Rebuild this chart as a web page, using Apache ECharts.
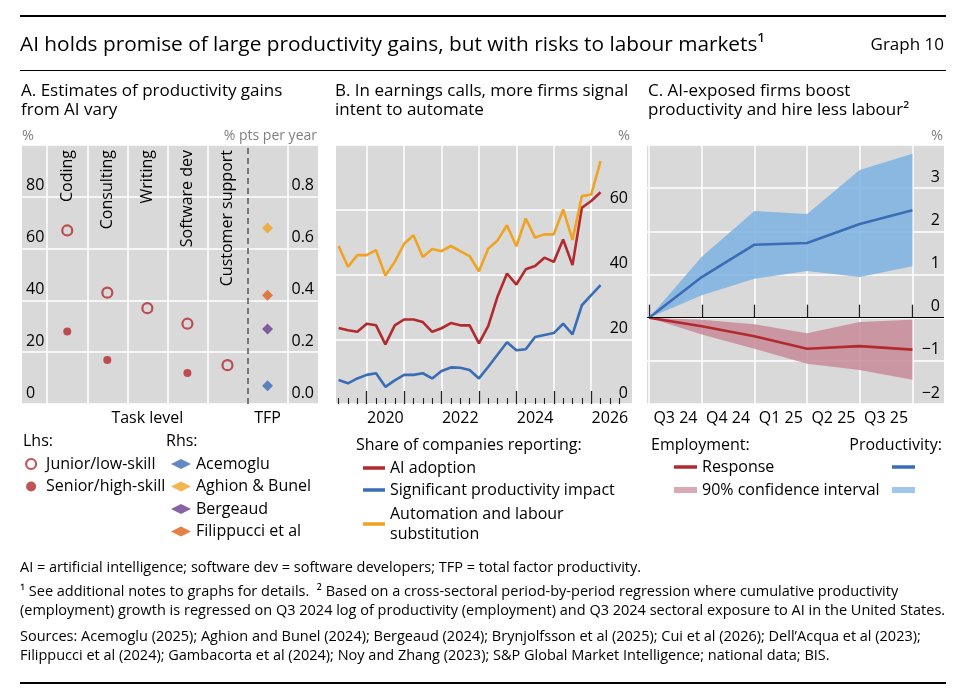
<!DOCTYPE html>
<html>
<head>
<meta charset="utf-8">
<script src="https://cdn.jsdelivr.net/npm/echarts@6/dist/echarts.min.js"></script>
<style>
  html, body { margin: 0; padding: 0; background: #fff; }
  #chart { width: 966px; height: 692px; }
</style>
</head>
<body>
<div id="chart"></div>
<script>
// A. productivity gains by task (lhs, %) and TFP estimates (rhs, % pts per year)
const taskNames = ['Coding', 'Consulting', 'Writing', 'Software dev', 'Customer support'];
const juniorGains = [67, 43, 37, 31, 15];
const seniorGains = [28, 17, null, 12, null];
const tfpStudies = ['Acemoglu', 'Aghion & Bunel', 'Bergeaud', 'Filippucci et al'];
const tfpGains = [0.07, 0.68, 0.29, 0.42];
const panelATicks = ['Task level', 'TFP'];

// B. share of companies reporting, quarterly
const callDates = [2019.25, 2019.5, 2019.75, 2020, 2020.25, 2020.5, 2020.75, 2021, 2021.25, 2021.5,
  2021.75, 2022, 2022.25, 2022.5, 2022.75, 2023, 2023.25, 2023.5, 2023.75, 2024,
  2024.25, 2024.5, 2024.75, 2025, 2025.25, 2025.5, 2025.75, 2026, 2026.25];
const aiAdoption = [23.5, 22.8, 22.3, 24.8, 24.3, 18.4, 24.3, 26.1, 26.1, 25.3,
  22.3, 23.4, 25.0, 24.3, 24.3, 18.7, 24.1, 33.3, 40.3, 36.9,
  41.6, 42.6, 45.2, 43.9, 50.8, 42.9, 60.6, 62.7, 65.4];
const productivityImpact = [7.4, 6.4, 7.9, 9.0, 9.5, 5.3, 7.3, 9.0, 9.0, 9.5,
  7.9, 10.2, 11.3, 11.2, 10.5, 7.9, 11.5, 15.3, 19.1, 16.6,
  16.9, 20.7, 21.3, 21.9, 24.8, 21.5, 30.5, 33.6, 36.7];
const automation = [48.8, 42.4, 46.0, 46.0, 47.5, 39.7, 43.9, 49.5, 52.1, 45.4,
  47.9, 47.2, 48.8, 47.2, 45.7, 41.0, 48.0, 50.6, 55.2, 48.7,
  57.3, 51.4, 52.4, 52.4, 60.1, 50.7, 64.2, 64.7, 75.0];
const yearTicks = [2020, 2021, 2022, 2023, 2024, 2025, 2026];
const quarterTicks = [2019.25, 2019.5, 2019.75, 2020.25, 2020.5, 2020.75, 2021.25, 2021.5, 2021.75,
  2022.25, 2022.5, 2022.75, 2023.25, 2023.5, 2023.75, 2024.25, 2024.5, 2024.75,
  2025.25, 2025.5, 2025.75, 2026.25, 2026.5, 2026.75];
const yearLabelSpots = [2020.5, 2022.5, 2024.5, 2026.5];

// C. cumulative response, quarters after Q3 2024
const steps = [0, 1, 2, 3, 4, 5];
const quarterLabels = ['Q3 24', 'Q4 24', 'Q1 25', 'Q2 25', 'Q3 25'];
const prodLine = [0, 0.94, 1.69, 1.73, 2.17, 2.49];
const prodUpper = [0, 1.41, 2.47, 2.40, 3.42, 3.80];
const prodLower = [0, 0.52, 0.90, 1.08, 0.94, 1.19];
const empLine = [0, -0.20, -0.43, -0.72, -0.66, -0.74];
const empUpper = [0, -0.05, -0.15, -0.36, -0.10, -0.05];
const empLower = [0, -0.39, -0.72, -1.07, -1.21, -1.44];

const FONT = 'Open Sans';
const RED = '#b2292e';
const BLUE = '#3a6db5';
const ORANGE = '#f0a323';
const tfpColors = [BLUE, ORANGE, '#6b3d8e', '#e0601c'];
const GRID_BG = '#d9d9d9';
const WHITE_LINE = { show: true, lineStyle: { color: '#fff', width: 1.5 } };

const chart = echarts.init(document.getElementById('chart'), null, { renderer: 'canvas' });

function text(str, pos, size, extra) {
  return Object.assign({
    text: str,
    padding: 0,
    textStyle: Object.assign({ fontFamily: FONT, fontSize: size, fontWeight: 'normal', color: '#000', lineHeight: Math.round(size * 1.2) }, extra || {}),
  }, pos);
}

function insideY(gridIndex, min, max, interval, fmt, split) {
  return {
    type: 'value', gridIndex, min, max, interval,
    position: 'right',
    axisLine: { show: false }, axisTick: { show: false },
    splitLine: split ? WHITE_LINE : { show: false },
    axisLabel: {
      inside: true, margin: 4, verticalAlign: 'bottom', padding: [0, 0, 3, 0],
      fontFamily: FONT, fontSize: 16, color: '#000', formatter: fmt,
    },
  };
}

// one polygon between the lower and upper edge of a confidence band
function bandRenderer(fill) {
  return function (params, api) {
    if (params.dataIndexInside !== 0) return null;
    const n = params.dataInsideLength;
    const top = [];
    const bottom = [];
    for (let j = 0; j < n; j++) {
      top.push(api.coord([api.value(0, j), api.value(2, j)]));
      bottom.unshift(api.coord([api.value(0, j), api.value(1, j)]));
    }
    return { type: 'polygon', shape: { points: top.concat(bottom) }, style: { fill }, silent: true };
  };
}

const labelStyle = { fontFamily: FONT, fontSize: 16, color: '#000' };

const option = {
  animation: false,
  textStyle: { fontFamily: FONT },
  title: [
    text('AI holds promise of large productivity gains, but with risks to labour markets\u00b9', { left: 20, top: 33 }, 20.8),
    text('Graph 10', { right: 22, top: 35 }, 17),
    text('A. Estimates of productivity gains\nfrom AI vary', { left: 21, top: 82 }, 17, { lineHeight: 19 }),
    text('B. In earnings calls, more firms signal\nintent to automate', { left: 335, top: 82 }, 17, { lineHeight: 19 }),
    text('C. AI-exposed firms boost\nproductivity and hire less labour\u00b2', { left: 648, top: 82 }, 17, { lineHeight: 19 }),
    text('%', { left: 22, top: 128 }, 14.5, { color: '#7f7f7f', lineHeight: 16 }),
    text('% pts per year', { right: 649, top: 128 }, 14, { color: '#7f7f7f', lineHeight: 16 }),
    text('%', { right: 336, top: 128 }, 14.5, { color: '#7f7f7f', lineHeight: 16 }),
    text('%', { right: 23, top: 128 }, 14.5, { color: '#7f7f7f', lineHeight: 16 }),
    text('Lhs:', { left: 23, top: 433 }, 16, { lineHeight: 16 }),
    text('Rhs:', { left: 166, top: 433 }, 16, { lineHeight: 16 }),
    text('Share of companies reporting:', { left: 356, top: 437 }, 16, { lineHeight: 16 }),
    text('Employment:', { left: 651, top: 437 }, 16, { lineHeight: 16 }),
    text('Productivity:', { right: 24, top: 437 }, 16, { lineHeight: 16 }),
    text('AI = artificial intelligence; software dev = software developers; TFP = total factor productivity.', { left: 20, top: 558 }, 14.5, { lineHeight: 19 }),
    text('\u00b9 See additional notes to graphs for details.  \u00b2 Based on a cross-sectoral period-by-period regression where cumulative productivity\n(employment) growth is regressed on Q3 2024 log of productivity (employment) and Q3 2024 sectoral exposure to AI in the United States.', { left: 20, top: 582 }, 14.5, { lineHeight: 19 }),
    text('Sources: Acemoglu (2025); Aghion and Bunel (2024); Bergeaud (2024); Brynjolfsson et al (2025); Cui et al (2026); Dell\u2019Acqua et al (2023);\nFilippucci et al (2024); Gambacorta et al (2024); Noy and Zhang (2023); S&P Global Market Intelligence; national data; BIS.', { left: 20, top: 627 }, 14.5, { lineHeight: 19 }),
  ],
  graphic: [
    { type: 'line', shape: { x1: 20, y1: 16, x2: 946, y2: 16 }, style: { stroke: '#000', lineWidth: 2 } },
    { type: 'line', shape: { x1: 20, y1: 70.5, x2: 946, y2: 70.5 }, style: { stroke: '#000', lineWidth: 1 } },
    { type: 'line', shape: { x1: 20, y1: 683, x2: 946, y2: 683 }, style: { stroke: '#000', lineWidth: 2 } },
  ],
  legend: [
    {
      orient: 'vertical', left: 20, top: 451, itemWidth: 20, itemHeight: 10, itemGap: 6.5,
      selectedMode: false, textStyle: Object.assign({ lineHeight: 16 }, labelStyle),
      data: [
        { name: 'Junior/low-skill', itemStyle: { color: 'transparent', borderColor: RED, borderWidth: 2.2 } },
        { name: 'Senior/high-skill', icon: 'path://M5,2a3,3 0 1,0 0.01,0z' },
      ],
    },
    {
      orient: 'vertical', left: 166, top: 451, itemWidth: 20, itemHeight: 10, itemGap: 6.5,
      selectedMode: false, textStyle: Object.assign({ lineHeight: 16 }, labelStyle),
      data: tfpStudies,
    },
    {
      orient: 'vertical', left: 358, top: 455, itemWidth: 22, itemHeight: 3.5, itemGap: 6,
      icon: 'rect', selectedMode: false, textStyle: Object.assign({ lineHeight: 16 }, labelStyle),
      data: ['AI adoption', 'Significant productivity impact'],
    },
    {
      orient: 'vertical', left: 358, top: 489, itemWidth: 22, itemHeight: 3.5,
      icon: 'rect', selectedMode: false,
      textStyle: Object.assign({ lineHeight: 20, padding: [20, 0, 0, 0] }, labelStyle),
      formatter: () => 'Automation and labour\nsubstitution',
      data: ['Automation and labour substitution'],
    },
    {
      orient: 'vertical', left: 669, top: 454, itemWidth: 23, itemHeight: 6, itemGap: 7,
      selectedMode: false, textStyle: Object.assign({ lineHeight: 16 }, labelStyle),
      data: [
        { name: 'Response', icon: 'path://M0,0H23V3.5H0Z' },
        { name: '90% confidence interval', icon: 'rect' },
      ],
    },
    {
      orient: 'vertical', left: 887, top: 454, itemWidth: 23, itemHeight: 6, itemGap: 7,
      selectedMode: false, textStyle: Object.assign({ lineHeight: 16 }, labelStyle),
      formatter: () => ' ',
      data: [
        { name: 'Productivity response', icon: 'path://M0,0H23V3.5H0Z' },
        { name: 'Productivity 90% confidence interval', icon: 'rect' },
      ],
    },
  ],
  grid: [
    { left: 22, top: 145, width: 296, height: 259, show: true, backgroundColor: GRID_BG, borderWidth: 0, outerBoundsMode: 'none' },
    { left: 336, top: 145, width: 296, height: 259, show: true, backgroundColor: GRID_BG, borderWidth: 0, outerBoundsMode: 'none' },
    { left: 647, top: 145, width: 297, height: 259, show: true, backgroundColor: GRID_BG, borderWidth: 0, outerBoundsMode: 'none' },
  ],
  xAxis: [
    {
      type: 'value', gridIndex: 0, position: 'bottom', min: -0.13, max: 7.26,
      axisLine: { show: false },
      axisTick: { show: false, customValues: [0.5, 1.5, 2.5, 3.5, 4.5, 6.5] },
      splitLine: WHITE_LINE,
      axisLabel: Object.assign({ customValues: [3, 6], margin: 6, formatter: (v) => panelATicks[v === 3 ? 0 : 1] }, labelStyle),
    },
    {
      type: 'value', gridIndex: 0, position: 'top', min: -0.13, max: 7.26,
      axisLine: { show: false }, axisTick: { show: false }, splitLine: { show: false },
      axisLabel: Object.assign({
        inside: true, rotate: 90, margin: 5,
        customValues: [1, 2, 3, 4, 5], formatter: (v) => taskNames[v - 1],
      }, labelStyle),
    },
    {
      type: 'value', gridIndex: 1, position: 'bottom', min: 2019.18, max: 2027.09,
      axisLine: { show: false },
      axisTick: { inside: true, length: 13, customValues: yearTicks, lineStyle: { color: '#222', width: 1.3 } },
      splitLine: WHITE_LINE,
      axisLabel: Object.assign({ customValues: yearLabelSpots, margin: 6, formatter: (v) => String(Math.floor(v)) }, labelStyle),
    },
    {
      type: 'value', gridIndex: 1, position: 'bottom', min: 2019.18, max: 2027.09,
      axisLine: { show: false },
      axisTick: { inside: true, length: 6, customValues: quarterTicks, lineStyle: { color: '#222', width: 1.1 } },
      splitLine: { show: false }, axisLabel: { show: false },
    },
    {
      type: 'value', gridIndex: 2, position: 'bottom', min: -0.04, max: 5.6,
      axisLine: { show: false },
      axisTick: { inside: true, length: 13, customValues: steps, lineStyle: { color: '#222', width: 1.3 } },
      splitLine: WHITE_LINE,
      axisLabel: Object.assign({ customValues: [0.5, 1.5, 2.5, 3.5, 4.5], margin: 6, formatter: (v) => quarterLabels[Math.floor(v)] }, labelStyle),
    },
  ],
  yAxis: [
    Object.assign(insideY(0, 0, 100, 20, (v) => (v >= 100 ? '' : String(v)), true), { position: 'left' }),
    insideY(0, 0, 1, 0.2, (v) => (v >= 0.99 ? '' : v.toFixed(1)), false),
    insideY(1, 0, 80, 20, (v) => (v >= 80 ? '' : String(v)), true),
    insideY(2, -2, 4, 1, (v) => (v >= 4 ? '' : (v < 0 ? '\u2212' + Math.abs(v) : String(v))), true),
  ],
  series: [
    {
      name: 'Junior/low-skill', type: 'scatter', xAxisIndex: 0, yAxisIndex: 0,
      symbol: 'circle', symbolSize: 10,
      itemStyle: { color: 'transparent', borderColor: RED, borderWidth: 2.2 },
      data: juniorGains.map((v, i) => [i + 1, v]),
      markLine: {
        silent: true, symbol: ['none', 'none'], label: { show: false },
        lineStyle: { color: '#555', type: [6, 4], width: 1.5 },
        data: [{ xAxis: 5.5 }],
      },
    },
    {
      name: 'Senior/high-skill', type: 'scatter', xAxisIndex: 0, yAxisIndex: 0,
      symbol: 'circle', symbolSize: 8, itemStyle: { color: RED },
      data: seniorGains.map((v, i) => [i + 1, v]).filter((d) => d[1] != null),
    },
    ...tfpStudies.map((name, i) => ({
      name, type: 'scatter', xAxisIndex: 0, yAxisIndex: 1,
      symbol: 'diamond', symbolSize: 11, itemStyle: { color: tfpColors[i] },
      data: [[6, tfpGains[i]]],
    })),
    {
      name: 'AI adoption', type: 'line', xAxisIndex: 2, yAxisIndex: 2, showSymbol: false,
      itemStyle: { color: RED }, lineStyle: { color: RED, width: 2.6 },
      data: callDates.map((d, i) => [d, aiAdoption[i]]),
    },
    {
      name: 'Significant productivity impact', type: 'line', xAxisIndex: 2, yAxisIndex: 2, showSymbol: false,
      itemStyle: { color: BLUE }, lineStyle: { color: BLUE, width: 2.6 },
      data: callDates.map((d, i) => [d, productivityImpact[i]]),
    },
    {
      name: 'Automation and labour substitution', type: 'line', xAxisIndex: 2, yAxisIndex: 2, showSymbol: false,
      itemStyle: { color: ORANGE }, lineStyle: { color: ORANGE, width: 2.6 },
      data: callDates.map((d, i) => [d, automation[i]]),
    },
    {
      name: '90% confidence interval', type: 'custom', xAxisIndex: 4, yAxisIndex: 3,
      itemStyle: { color: '#d8aab5' },
      renderItem: bandRenderer('rgba(197,133,146,0.8)'),
      encode: { x: 0, y: [1, 2] },
      data: steps.map((s, i) => [s, empLower[i], empUpper[i]]),
    },
    {
      name: 'Productivity 90% confidence interval', type: 'custom', xAxisIndex: 4, yAxisIndex: 3,
      itemStyle: { color: '#9fc7ea' },
      renderItem: bandRenderer('rgba(125,178,225,0.85)'),
      encode: { x: 0, y: [1, 2] },
      data: steps.map((s, i) => [s, prodLower[i], prodUpper[i]]),
    },
    {
      name: 'Response', type: 'line', xAxisIndex: 4, yAxisIndex: 3, symbol: 'none',
      itemStyle: { color: RED }, lineStyle: { color: RED, width: 2.6 },
      data: steps.map((s, i) => [s, empLine[i]]),
      markLine: {
        silent: true, symbol: ['none', 'none'], label: { show: false },
        lineStyle: { color: '#000', type: 'solid', width: 1.2 },
        data: [{ yAxis: 0 }],
      },
    },
    {
      name: 'Productivity response', type: 'line', xAxisIndex: 4, yAxisIndex: 3, symbol: 'none',
      itemStyle: { color: BLUE }, lineStyle: { color: BLUE, width: 2.6 },
      data: steps.map((s, i) => [s, prodLine[i]]),
    },
  ],
};

chart.setOption(option);
</script>
</body>
</html>
